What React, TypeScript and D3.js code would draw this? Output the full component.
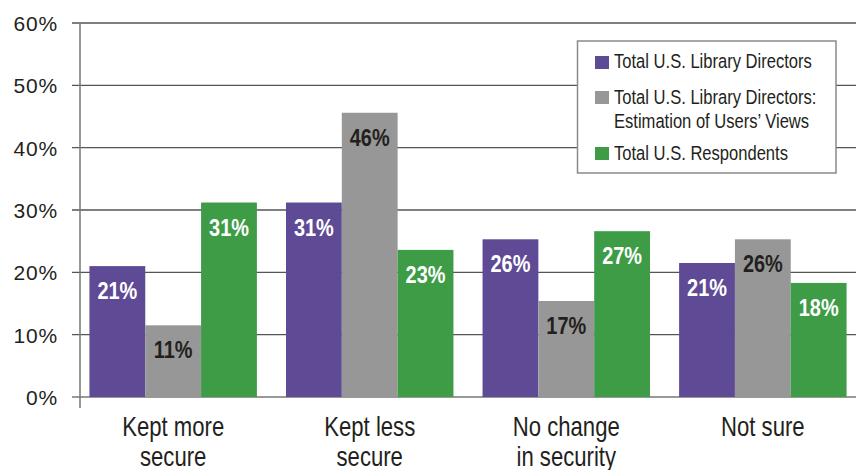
import React from "react";
import * as d3 from "d3";

const categories: string[][] = [
  ["Kept more", "secure"],
  ["Kept less", "secure"],
  ["No change", "in security"],
  ["Not sure"],
];
const seriesNames: string[][] = [
  ["Total U.S. Library Directors"],
  ["Total U.S. Library Directors:", "Estimation of Users’ Views"],
  ["Total U.S. Respondents"],
];
const directors = [21.0, 31.2, 25.3, 21.5];
const estimation = [11.5, 45.6, 15.4, 25.3];
const respondents = [31.2, 23.6, 26.6, 18.3];
const directorsLabels = ["21%", "31%", "26%", "21%"];
const estimationLabels = ["11%", "46%", "17%", "26%"];
const respondentsLabels = ["31%", "23%", "27%", "18%"];
const yTicks = [0, 10, 20, 30, 40, 50, 60];

const colors = ["#5f4a96", "#989797", "#3e9c47"];
const labelColors = ["#ffffff", "#231f20", "#ffffff"];
const FONT = "'Liberation Sans', Arial, sans-serif";

function CText({
  x,
  y,
  sx,
  children,
  ...rest
}: {
  x: number;
  y: number;
  sx: number;
  children: React.ReactNode;
  [k: string]: any;
}) {
  return (
    <text transform={`translate(${x},${y}) scale(${sx},1)`} fontFamily={FONT} {...rest}>
      {children}
    </text>
  );
}

export default function App() {
  const W = 856, H = 470;
  const left = 80, right = 856, top = 23, bottom = 397;
  const series = [directors, estimation, respondents];
  const labels = [directorsLabels, estimationLabels, respondentsLabels];
  const y = d3.scaleLinear().domain([0, 60]).range([bottom, top]);
  const x = d3
    .scaleBand<number>()
    .domain(d3.range(categories.length))
    .range([left, right])
    .paddingInner(0.148)
    .paddingOuter(0.048);
  const xs = d3.scaleBand<number>().domain([0, 1, 2]).range([0, x.bandwidth()]);

  const legendRows = [
    { swatchY: 56, lines: [67.5] },
    { swatchY: 91, lines: [103.5, 128] },
    { swatchY: 147, lines: [159.5] },
  ];

  return (
    <svg
      width={W}
      height={H}
      style={{ position: "absolute", left: 0, top: 0, background: "#fff" }}
    >
      {yTicks.map((t) => (
        <g key={t}>
          <line
            x1={72}
            x2={right}
            y1={y(t)}
            y2={y(t)}
            stroke={t === 0 ? "#777" : "#555"}
            strokeWidth={1.3}
          />
          <CText
            x={58}
            y={y(t) + 8}
            sx={1}
            textAnchor="end"
            fontSize={21}
            letterSpacing={0.8}
            fill="#231f20"
          >
            {t}%
          </CText>
        </g>
      ))}
      <line x1={left} x2={left} y1={top} y2={408} stroke="#777" strokeWidth={1.5} />
      {categories.map((_, ci) => (
        <g key={ci} transform={`translate(${x(ci)},0)`}>
          {series.map((s, si) => (
            <g key={si}>
              <rect
                x={xs(si)}
                y={y(s[ci])}
                width={xs.bandwidth()}
                height={bottom - y(s[ci])}
                fill={colors[si]}
              />
              <CText
                x={(xs(si) as number) + xs.bandwidth() / 2}
                y={y(s[ci]) + 33}
                sx={0.83}
                textAnchor="middle"
                fontWeight="bold"
                fontSize={24}
                fill={labelColors[si]}
              >
                {labels[si][ci]}
              </CText>
            </g>
          ))}
        </g>
      ))}
      {categories.map((c, ci) =>
        c.map((line, li) => (
          <CText
            key={`${ci}-${li}`}
            x={(x(ci) as number) + x.bandwidth() / 2}
            y={436 + li * 30}
            sx={0.82}
            textAnchor="middle"
            fontSize={27}
            fill="#231f20"
          >
            {line}
          </CText>
        ))
      )}
      <rect x={577.5} y={41} width={258.5} height={132} fill="#fff" stroke="#8a8a8a" strokeWidth={1.5} />
      {seriesNames.map((name, si) => (
        <g key={si}>
          <rect x={595} y={legendRows[si].swatchY} width={14} height={13} fill={colors[si]} />
          {name.map((line, li) => (
            <CText
              key={li}
              x={614}
              y={legendRows[si].lines[li]}
              sx={0.85}
              fontSize={19.5}
              fill="#231f20"
            >
              {line}
            </CText>
          ))}
        </g>
      ))}
    </svg>
  );
}
